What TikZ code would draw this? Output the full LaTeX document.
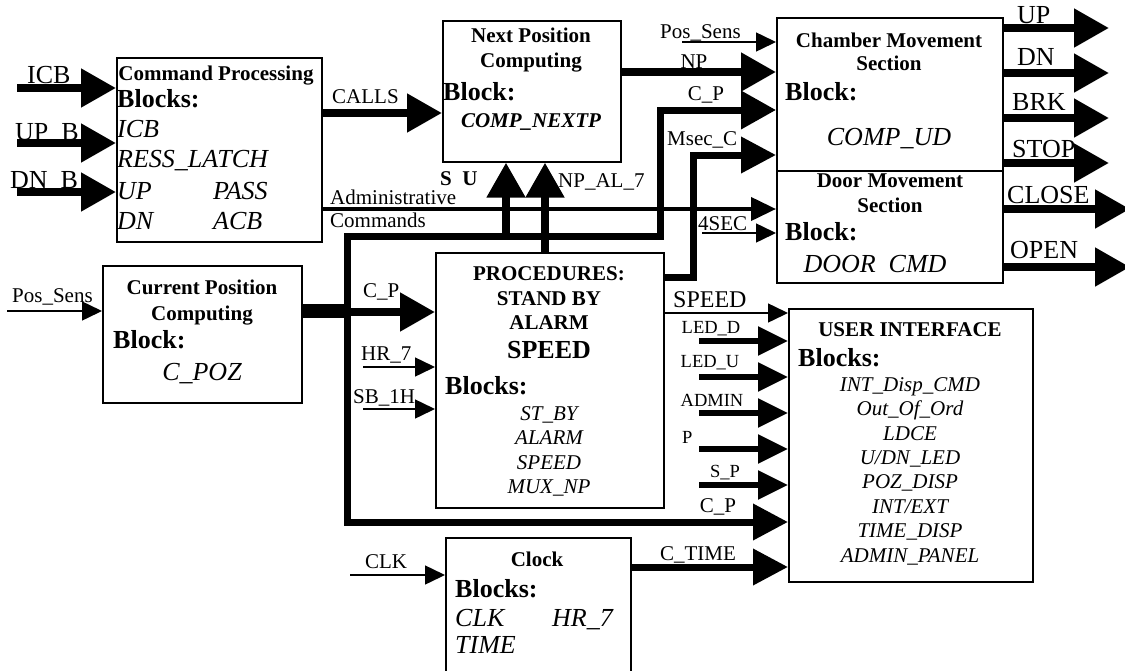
\documentclass[tikz,border=0pt]{standalone}
\usepackage{fontspec}
\setmainfont{Liberation Serif}
\usetikzlibrary{arrows.meta}
\newcommand\szS{\fontsize{21}{24}\selectfont}
\newcommand\szL{\fontsize{26}{30}\selectfont}
\newcommand\szU{\fontsize{18.5}{21}\selectfont}
\newcommand\szM{\fontsize{24}{28}\selectfont}
\tikzset{
  box/.style={draw, line width=1.6pt, inner sep=0pt, anchor=north west},
  tb/.style={inner sep=0pt, anchor=base},
  tl/.style={inner sep=0pt, anchor=base west},
  bigarrow/.style={line width=8pt, -{Triangle[length=35pt,width=37pt]}},
  busarrow/.style={line width=7pt, -{Triangle[length=35pt,width=35pt]}},
  thinarrow/.style={line width=1.5pt, -{Triangle[length=20pt,width=19pt]}},
  midarrow/.style={line width=5.5pt, -{Triangle[length=30pt,width=28pt]}},
  admarrow/.style={line width=4pt, -{Triangle[length=25pt,width=23pt]}},
  busline/.style={line width=7pt},
}
\begin{document}
\begin{tikzpicture}[x=1pt,y=-1pt]
\useasboundingbox (0,0) rectangle (1125,670);
% boxes
\node[box, minimum width=205pt, minimum height=184pt] (cmd) at (116,57) {};
\node[box, minimum width=178pt, minimum height=141pt] (np) at (442,20) {};
\node[box, minimum width=226pt, minimum height=153pt] (cham) at (776,17) {};
\node[box, minimum width=226pt, minimum height=112pt] (door) at (776,170) {};
\node[box, minimum width=199pt, minimum height=137pt] (cur) at (102,265) {};
\node[box, minimum width=228pt, minimum height=255pt] (proc) at (435,252) {};
\node[box, minimum width=244pt, minimum height=273pt] (ui) at (788,308) {};
\node[box, minimum width=185pt, minimum height=140pt] (clk) at (445,537) {};
% free ends and levels
\coordinate (icb) at (17,88);
\coordinate (upb) at (17,143);
\coordinate (dnb) at (17,192);
\coordinate (ycalls) at (0,113);
\coordinate (yadm) at (0,209);
\coordinate (ynp) at (0,72);
\coordinate (pst) at (682,42);
\coordinate (busTL) at (347,236);
\coordinate (busBL) at (347,522);
\coordinate (busTR) at (660,236);
\coordinate (ycp) at (0,110);
\coordinate (su) at (506,236);
\coordinate (xnal) at (545,0);
\coordinate (ymsec) at (0,277);
\coordinate (msc) at (693,155);
\coordinate (sec4) at (702,233);
\coordinate (oup) at (1109,28);
\coordinate (odn) at (1109,73);
\coordinate (obrk) at (1109,118);
\coordinate (ostop) at (1109,163);
\coordinate (oclose) at (1130,209);
\coordinate (oopen) at (1130,267);
\coordinate (psl) at (7,311);
\coordinate (ycur) at (0,311);
\coordinate (ycp2) at (0,312);
\coordinate (hr) at (363,367);
\coordinate (sb) at (363,409);
\coordinate (yspd) at (0,313);
\coordinate (ledd) at (699,341);
\coordinate (ledu) at (699,377);
\coordinate (adm) at (699,413);
\coordinate (pin) at (699,449);
\coordinate (sp) at (699,485);
\coordinate (yct) at (0,567);
\coordinate (clkin) at (350,575);
% connectors
\draw[bigarrow] (icb) -- (icb -| cmd.west);
\draw[bigarrow] (upb) -- (upb -| cmd.west);
\draw[bigarrow] (dnb) -- (dnb -| cmd.west);
\draw[bigarrow] (cmd.east |- ycalls) -- (np.west |- ycalls);
\draw[admarrow] (cmd.east |- yadm) -- (door.west |- yadm);
\draw[bigarrow] (np.east |- ynp) -- (cham.west |- ynp);
\draw[thinarrow] (pst) -- (pst -| cham.west);
\draw[line width=14pt] (cur.east |- ycur) -- (busTL |- ycur);
\draw[busline, -{Triangle[length=35pt,width=37pt]}] (busBL) -- (busTL) -- (busTR) -- (busTR |- ycp) -- (cham.west |- ycp);
\draw[busarrow] (busTL) -- (busBL) -- (ui.west |- busBL);
\draw[bigarrow] (su) -- (su |- np.south);
\draw[bigarrow] (proc.north -| xnal) -- (np.south -| xnal);
\draw[busarrow] (proc.east |- ymsec) -| (msc) -- (msc -| cham.west);
\draw[thinarrow] (sec4) -- (sec4 -| door.west);
\draw[bigarrow] (oup -| cham.east) -- (oup);
\draw[bigarrow] (odn -| cham.east) -- (odn);
\draw[bigarrow] (obrk -| cham.east) -- (obrk);
\draw[bigarrow] (ostop -| cham.east) -- (ostop);
\draw[bigarrow] (oclose -| door.east) -- (oclose);
\draw[bigarrow] (oopen -| door.east) -- (oopen);
\draw[thinarrow] (psl) -- (psl -| cur.west);
\draw[bigarrow] (busTL |- ycp2) -- (proc.west |- ycp2);
\draw[thinarrow] (hr) -- (hr -| proc.west);
\draw[thinarrow] (sb) -- (sb -| proc.west);
\draw[thinarrow] (proc.east |- yspd) -- (ui.west |- yspd);
\draw[midarrow] (ledd) -- (ledd -| ui.west);
\draw[midarrow] (ledu) -- (ledu -| ui.west);
\draw[midarrow] (adm) -- (adm -| ui.west);
\draw[midarrow] (pin) -- (pin -| ui.west);
\draw[midarrow] (sp) -- (sp -| ui.west);
\draw[busarrow] (clk.east |- yct) -- (ui.west |- yct);
\draw[thinarrow] (clkin) -- (clkin -| clk.west);
% Command Processing texts
\node[tb] (t1) at (216,80) {\szS\bfseries Command Processing};
\node[tl] (t2) at (117,107) {\szL\bfseries Blocks:};
\node[tl] (t3) at (117,137) {\szL\itshape ICB};
\node[tl] (t4) at (117,167) {\szL\itshape RESS\_LATCH};
\node[tl] (t5) at (117,199) {\szL\itshape UP};
\node[tl] (t6) at (213,199) {\szL\itshape PASS};
\node[tl] (t7) at (117,229) {\szL\itshape DN};
\node[tl] (t8) at (213,229) {\szL\itshape ACB};
\node[tl] (l1) at (27,83) {\szL ICB};
\node[tl] (l2) at (15,140) {\szL UP\_B};
\node[tl] (l3) at (10,188) {\szL DN\_B};
\node[tl] (l4) at (332,103) {\szS CALLS};
\node[tl] (l5) at (330,204) {\szS Administrative};
\node[tl] (l6) at (330,227) {\szS Commands};
% Next Position
\node[tb] (n1) at (531,42) {\szS\bfseries Next Position};
\node[tb] (n2) at (531,67) {\szS\bfseries Computing};
\node[tl] (n3) at (443,100) {\szL\bfseries Block:};
\node[tb] (n4) at (531,127) {\szS\bfseries\itshape COMP\_NEXTP};
\node[tl] (l7) at (660,38) {\szS Pos\_Sens};
\node[tb] (l8) at (694,68) {\szS NP};
\node[tb] (l9) at (706,100) {\szS C\_P};
\node[tl] (l10) at (667,145) {\szS Msec\_C};
\node[tl] (l11) at (440,185) {\szS\bfseries S\enspace U};
\node[tl] (l12) at (558,187) {\szS NP\_AL\_7};
\node[tl] (l13) at (698,230) {\szS 4SEC};
% Chamber / Door
\node[tb] (c1) at (889,47) {\szS\bfseries Chamber Movement};
\node[tb] (c2) at (889,70) {\szS\bfseries Section};
\node[tl] (c3) at (785,100) {\szL\bfseries Block:};
\node[tb] (c4) at (889,145) {\szL\itshape COMP\_UD};
\node[tb] (d1) at (890,187) {\szS\bfseries Door Movement};
\node[tb] (d2) at (890,212) {\szS\bfseries Section};
\node[tl] (d3) at (785,240) {\szL\bfseries Block:};
\node[tb] (d4) at (875,272) {\szL\itshape DOOR\enspace CMD};
\node[tl] (o1) at (1017,23) {\szL UP};
\node[tl] (o2) at (1017,65) {\szL DN};
\node[tl] (o3) at (1012,110) {\szL BRK};
\node[tl] (o4) at (1012,157) {\szL STOP};
\node[tl] (o5) at (1007,203) {\szL CLOSE};
\node[tl] (o6) at (1010,258) {\szL OPEN};
% Current Position
\node[tb] (p1) at (202,294) {\szS\bfseries Current Position};
\node[tb] (p2) at (202,320) {\szS\bfseries Computing};
\node[tl] (p3) at (113,348) {\szL\bfseries Block:};
\node[tb] (p4) at (202,380) {\szL\itshape C\_POZ};
\node[tl] (l14) at (12,302) {\szS Pos\_Sens};
\node[tl] (l15) at (363,297) {\szS C\_P};
\node[tl] (l16) at (361,360) {\szS HR\_7};
\node[tl] (l17) at (353,403) {\szS SB\_1H};
% Procedures
\node[tb] (r1) at (549,280) {\szS\bfseries PROCEDURES:};
\node[tb] (r2) at (549,305) {\szS\bfseries STAND BY};
\node[tb] (r3) at (549,329) {\szS\bfseries ALARM};
\node[tb] (r4) at (549,358) {\szL\bfseries SPEED};
\node[tl] (r5) at (445,394) {\szL\bfseries Blocks:};
\node[tb] (r6) at (549,420) {\szS\itshape ST\_BY};
\node[tb] (r7) at (549,444) {\szS\itshape ALARM};
\node[tb] (r8) at (549,469) {\szS\itshape SPEED};
\node[tb] (r9) at (549,493) {\szS\itshape MUX\_NP};
\node[tl] (l18) at (673,307) {\szM SPEED};
\node[tb] (l19) at (711,333) {\szU LED\_D};
\node[tb] (l20) at (710,367) {\szU LED\_U};
\node[tb] (l21) at (712,406) {\szU ADMIN};
\node[tl] (l22) at (682,443) {\szU P};
\node[tb] (l23) at (725,477) {\szU S\_P};
\node[tb] (l24) at (718,512) {\szS C\_P};
\node[tb] (l25) at (698,560) {\szS C\_TIME};
% User interface
\node[tb] (u1) at (910,336) {\szS\bfseries USER INTERFACE};
\node[tl] (u2) at (798,366) {\szL\bfseries Blocks:};
\node[tb] (u3) at (910,391) {\szS\itshape INT\_Disp\_CMD};
\node[tb] (u4) at (910,415) {\szS\itshape Out\_Of\_Ord};
\node[tb] (u5) at (910,440) {\szS\itshape LDCE};
\node[tb] (u6) at (910,464) {\szS\itshape U/DN\_LED};
\node[tb] (u7) at (910,488) {\szS\itshape POZ\_DISP};
\node[tb] (u8) at (910,513) {\szS\itshape INT/EXT};
\node[tb] (u9) at (910,537) {\szS\itshape TIME\_DISP};
\node[tb] (u10) at (910,562) {\szS\itshape ADMIN\_PANEL};
% Clock
\node[tb] (k1) at (537,566) {\szS\bfseries Clock};
\node[tl] (k2) at (455,597) {\szL\bfseries Blocks:};
\node[tl] (k3) at (455,626) {\szL\itshape CLK};
\node[tl] (k4) at (552,626) {\szL\itshape HR\_7};
\node[tl] (k5) at (455,653) {\szL\itshape TIME};
\node[tb] (l26) at (386,568) {\szS CLK};
\end{tikzpicture}
\end{document}
